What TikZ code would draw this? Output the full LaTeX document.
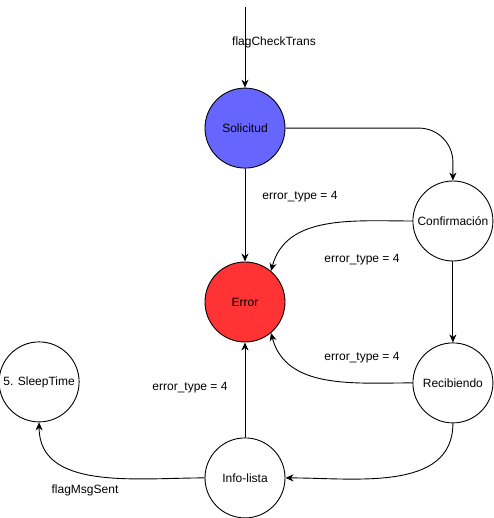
\documentclass[tikz,border=0pt]{standalone}
\usepackage{fontspec}
\setmainfont{Liberation Sans}
\usetikzlibrary{positioning, arrows.meta}

\definecolor{solblue}{RGB}{102,102,255}
\definecolor{errred}{RGB}{255,51,51}

\begin{document}
\begin{tikzpicture}[
		>={Stealth[length=8pt,width=7pt,inset=2.5pt]},
		font=\fontsize{12}{14}\selectfont,
		% Define styles
		state/.style={circle, draw, line width=0.9pt, minimum size=80pt, inner sep=0pt, align=center},
		trans/.style={->, line width=0.9pt},
		lbl/.style={inner sep=1pt}
		]
		
		\useasboundingbox (-245pt,-216pt) rectangle (248pt,302pt);
		
		% 1. Central error state
		\node[state, fill=errred] (error) {Error};
		
		% 2. Main column
		\node[state, fill=solblue, above=93pt of error] (solicitud) {Solicitud};
		\coordinate[above=81pt of solicitud] (start);
		\node[state, below=95pt of error] (infolista) {Info-lista};
		
		% 3. Right column
		\node[state, right=127pt of error, yshift=81pt] (confirmacion) {Confirmación};
		\node[state, below=81pt of confirmacion] (recibiendo) {Recibiendo};
		
		% 4. Left state
		\node[state, left=125pt of infolista, yshift=96pt] (sleeptime) {5. SleepTime};
		
		% Transitions
		\draw[trans] (start) -- node[lbl, pos=0.44, xshift=29pt] (lblcheck) {flagCheckTrans} (solicitud);
		\draw[trans, rounded corners=34pt] (solicitud.east) -| (confirmacion.north);
		\draw[trans] (solicitud) -- node[lbl, pos=0.3, xshift=55pt] (lblsol) {error\_type = 4} (error);
		\draw[trans] (confirmacion.west) to[out=180, in=75] (error.50);
		\draw[trans] (confirmacion) -- (recibiendo);
		\draw[trans] (recibiendo.west) to[out=180, in=-75] (error.-50);
		\draw[trans] (recibiendo.south) to[out=-90, in=0] (infolista.east);
		\draw[trans] (infolista) -- node[lbl, pos=0.52, xshift=-55pt] (lblinfo) {error\_type = 4} (error);
		\draw[trans] (infolista.west) to[out=180, in=-90] (sleeptime.south);
		
		% Labels of curved transitions
		\node[lbl] (lblconf) at ([xshift=117pt, yshift=42pt]error) {error\_type = 4};
		\node[lbl] (lblrec) at ([xshift=117pt, yshift=-56pt]error) {error\_type = 4};
		\node[lbl] (lblsent) at ([xshift=-160pt, yshift=-188pt]error) {flagMsgSent};
		
	\end{tikzpicture}
\end{document}
